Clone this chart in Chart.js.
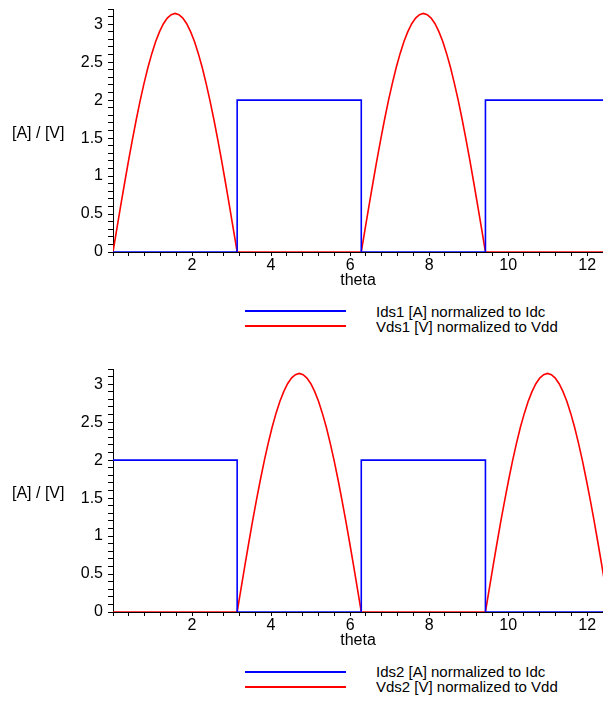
<!DOCTYPE html>
<html>
<head>
<meta charset="utf-8">
<script src="https://cdn.jsdelivr.net/npm/chart.js@4"></script>
<style>
  html, body { margin: 0; padding: 0; background: #fff; }
  #wrap { position: relative; width: 603px; height: 702px; overflow: hidden; font-family: "Liberation Sans", Arial, sans-serif; color: #000; }
  canvas { position: absolute; left: 0; }
  .ytitle { position: absolute; left: 12px; font-size: 16px; line-height: 16px; white-space: nowrap; }
  .lgline { position: absolute; left: 245px; width: 101px; height: 0; }
  .lgtext { position: absolute; left: 376px; font-size: 15px; line-height: 16px; white-space: nowrap; }
</style>
</head>
<body>
<div id="wrap">
  <canvas id="c1" width="603" height="290" style="top:0px"></canvas>
  <canvas id="c2" width="603" height="290" style="top:360px"></canvas>
  <div class="ytitle" style="top:125px">[A] / [V]</div>
  <div class="ytitle" style="top:485px">[A] / [V]</div>
  <div class="lgline" style="top:310px;border-top:2px solid #0000ff"></div>
  <div class="lgline" style="top:325px;border-top:2px solid #ff0000"></div>
  <div class="lgtext" style="top:304px">Ids1 [A] normalized to Idc</div>
  <div class="lgtext" style="top:319px">Vds1 [V] normalized to Vdd</div>
  <div class="lgline" style="top:671px;border-top:2px solid #0000ff"></div>
  <div class="lgline" style="top:686px;border-top:2px solid #ff0000"></div>
  <div class="lgtext" style="top:664px">Ids2 [A] normalized to Idc</div>
  <div class="lgtext" style="top:679px">Vds2 [V] normalized to Vdd</div>
</div>
<script>
// ---- data ----
// Vds1: humps over [0, pi] and [2pi, 3pi], zero elsewhere
const vds1Theta = [0,0.098,0.196,0.295,0.393,0.491,0.589,0.687,0.785,0.884,0.982,1.080,1.178,1.276,1.374,1.473,1.571,
  1.669,1.767,1.865,1.963,2.062,2.160,2.258,2.356,2.454,2.553,2.651,2.749,2.847,2.945,3.043,3.142,
  6.283,6.381,6.480,6.578,6.676,6.774,6.872,6.970,7.069,7.167,7.265,7.363,7.461,7.560,7.658,7.756,7.854,
  7.952,8.050,8.149,8.247,8.345,8.443,8.541,8.639,8.738,8.836,8.934,9.032,9.130,9.228,9.327,9.425,
  12.566];
const vds1 = [0,0.308,0.613,0.912,1.202,1.481,1.745,1.993,2.221,2.429,2.612,2.771,2.902,3.006,3.081,3.126,3.142,
  3.126,3.081,3.006,2.902,2.771,2.612,2.429,2.221,1.993,1.745,1.481,1.202,0.912,0.613,0.308,0,
  0,0.308,0.613,0.912,1.202,1.481,1.745,1.993,2.221,2.429,2.612,2.771,2.902,3.006,3.081,3.126,3.142,
  3.126,3.081,3.006,2.902,2.771,2.612,2.429,2.221,1.993,1.745,1.481,1.202,0.912,0.613,0.308,0,
  0];

// Vds2: humps over [pi, 2pi] and [3pi, 4pi], zero elsewhere
const vds2Theta = [0,
  3.142,3.240,3.338,3.436,3.534,3.632,3.731,3.829,3.927,4.025,4.123,4.222,4.320,4.418,4.516,4.614,4.712,
  4.811,4.909,5.007,5.105,5.203,5.301,5.400,5.498,5.596,5.694,5.792,5.890,5.989,6.087,6.185,6.283,
  9.425,9.523,9.621,9.719,9.817,9.916,10.014,10.112,10.210,10.308,10.407,10.505,10.603,10.701,10.799,10.898,10.996,
  11.094,11.192,11.290,11.388,11.487,11.585,11.683,11.781,11.879,11.977,12.076,12.174,12.272,12.370,12.468,12.566];
const vds2 = [0,
  0,0.308,0.613,0.912,1.202,1.481,1.745,1.993,2.221,2.429,2.612,2.771,2.902,3.006,3.081,3.126,3.142,
  3.126,3.081,3.006,2.902,2.771,2.612,2.429,2.221,1.993,1.745,1.481,1.202,0.912,0.613,0.308,0,
  0,0.308,0.613,0.912,1.202,1.481,1.745,1.993,2.221,2.429,2.612,2.771,2.902,3.006,3.081,3.126,3.142,
  3.126,3.081,3.006,2.902,2.771,2.612,2.429,2.221,1.993,1.745,1.481,1.202,0.912,0.613,0.308,0];

// Ids: square waves
const idsTheta = [0, 3.142, 3.142, 6.283, 6.283, 9.425, 9.425, 12.566];
const ids1 = [0, 0, 2, 2, 0, 0, 2, 2];
const ids2 = [2, 2, 0, 0, 2, 2, 0, 0];

const xLabelTicks = [2, 4, 6, 8, 10, 12];
const yLabelTicks = [0, 0.5, 1, 1.5, 2, 2.5, 3];

const seriesLabels1 = ['Ids1 [A] normalized to Idc', 'Vds1 [V] normalized to Vdd'];
const seriesLabels2 = ['Ids2 [A] normalized to Idc', 'Vds2 [V] normalized to Vdd'];

// ---- chart ----
Chart.defaults.font.family = '"Liberation Sans", Arial, sans-serif';
Chart.defaults.font.size = 16;
Chart.defaults.color = '#000';

function pts(xs, ys) { return xs.map((x, i) => ({ x: x, y: ys[i] })); }
function isLabel(list, v) { return list.some(t => Math.abs(t - v) < 1e-6); }

function makeChart(id, idsVals, vdsTheta, vdsVals, labels) {
  return new Chart(document.getElementById(id), {
    type: 'line',
    data: {
      datasets: [
        { label: labels[0], data: pts(idsTheta, idsVals), borderColor: '#0000ff', borderWidth: 1.6, pointRadius: 0, tension: 0, fill: false },
        { label: labels[1], data: pts(vdsTheta, vdsVals), borderColor: '#ff0000', borderWidth: 1.6, pointRadius: 0, tension: 0, fill: false }
      ]
    },
    options: {
      responsive: false,
      animation: false,
      events: [],
      layout: { padding: 0 },
      plugins: { legend: { display: false }, tooltip: { enabled: false } },
      scales: {
        x: {
          type: 'linear',
          min: 0, max: 12.4,
          border: { display: true, color: '#000', width: 1 },
          grid: { display: true, drawOnChartArea: false, drawTicks: true, tickLength: 4, color: '#000' },
          ticks: {
            stepSize: 0.4, autoSkip: false, maxRotation: 0, padding: 0,
            font: { size: 16 },
            callback: v => isLabel(xLabelTicks, v) ? String(Math.round(v)) : ''
          },
          title: { display: true, text: 'theta', font: { size: 16 }, padding: { top: 0, bottom: 0 } },
          afterFit: s => { s.height = 38; s.paddingLeft = 0; s.paddingRight = 0; }
        },
        y: {
          type: 'linear',
          min: 0, max: 3.2,
          border: { display: true, color: '#000', width: 1 },
          grid: { display: true, drawOnChartArea: false, drawTicks: true, tickLength: 5, color: '#000' },
          ticks: {
            stepSize: 0.1, autoSkip: false, padding: 5,
            font: { size: 16 },
            callback: v => isLabel(yLabelTicks, v) ? String(Math.round(v * 10) / 10) : ''
          },
          afterFit: s => { s.width = 113; s.paddingTop = 9; s.paddingBottom = 0; }
        }
      }
    }
  });
}

makeChart('c1', ids1, vds1Theta, vds1, seriesLabels1);
makeChart('c2', ids2, vds2Theta, vds2, seriesLabels2);
</script>
</body>
</html>
